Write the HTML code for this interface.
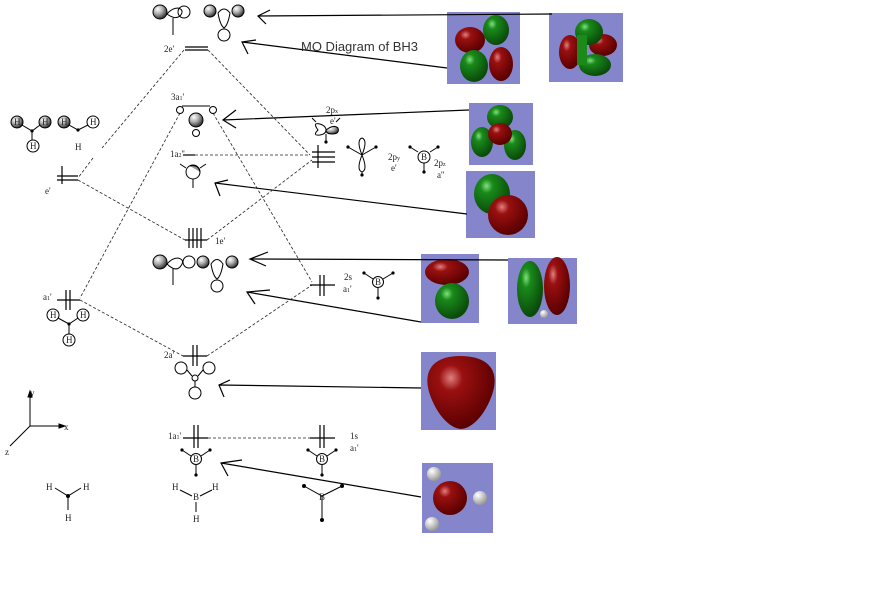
<!DOCTYPE html>
<html><head><meta charset="utf-8"><style>
html,body{margin:0;padding:0;background:#fff;}
svg{display:block;}
text{font-family:"Liberation Serif",serif;font-size:9px;fill:#222;}
.s{font-family:"Liberation Sans",sans-serif;}
</style></head><body>
<svg width="869" height="607" viewBox="0 0 869 607" xmlns="http://www.w3.org/2000/svg">
<defs>
<radialGradient id="red" cx="35%" cy="30%" r="70%"><stop offset="0" stop-color="#e08080"/><stop offset="0.25" stop-color="#9a1010"/><stop offset="1" stop-color="#5a0000"/></radialGradient>
<radialGradient id="grn" cx="35%" cy="30%" r="70%"><stop offset="0" stop-color="#80e080"/><stop offset="0.25" stop-color="#1a8a1a"/><stop offset="1" stop-color="#0a4a0a"/></radialGradient>
<radialGradient id="gry" cx="35%" cy="30%" r="70%"><stop offset="0" stop-color="#fff"/><stop offset="0.5" stop-color="#aaa"/><stop offset="1" stop-color="#333"/></radialGradient>
<radialGradient id="wht" cx="35%" cy="30%" r="70%"><stop offset="0" stop-color="#fff"/><stop offset="1" stop-color="#999"/></radialGradient>
</defs>

<!-- purple boxes with orbitals -->
<g>
<rect x="447" y="12" width="73" height="72" fill="#8585cc"/>
<ellipse cx="470" cy="40" rx="15" ry="13" fill="url(#red)"/>
<ellipse cx="496" cy="30" rx="13" ry="15" fill="url(#grn)"/>
<ellipse cx="474" cy="66" rx="14" ry="16" fill="url(#grn)"/>
<ellipse cx="501" cy="64" rx="12" ry="17" fill="url(#red)"/>

<rect x="549" y="13" width="74" height="69" fill="#8585cc"/>
<ellipse cx="570" cy="52" rx="11" ry="17" fill="url(#red)"/>
<ellipse cx="603" cy="45" rx="14" ry="11" fill="url(#red)"/>
<ellipse cx="589" cy="32" rx="14" ry="13" fill="url(#grn)"/>
<ellipse cx="595" cy="65" rx="16" ry="11" fill="url(#grn)"/>
<rect x="577" y="35" width="10" height="30" fill="#1a8a1a"/>

<rect x="469" y="103" width="64" height="62" fill="#8585cc"/>
<ellipse cx="500" cy="117" rx="13" ry="12" fill="url(#grn)"/>
<ellipse cx="482" cy="142" rx="11" ry="15" fill="url(#grn)"/>
<ellipse cx="515" cy="145" rx="11" ry="15" fill="url(#grn)"/>
<ellipse cx="500" cy="134" rx="12" ry="11" fill="url(#red)"/>

<rect x="466" y="171" width="69" height="67" fill="#8585cc"/>
<ellipse cx="492" cy="194" rx="18" ry="20" fill="url(#grn)"/>
<ellipse cx="508" cy="215" rx="20" ry="20" fill="url(#red)"/>

<rect x="421" y="254" width="58" height="69" fill="#8585cc"/>
<ellipse cx="447" cy="272" rx="22" ry="13" fill="url(#red)"/>
<ellipse cx="452" cy="301" rx="17" ry="18" fill="url(#grn)"/>

<rect x="508" y="258" width="69" height="66" fill="#8585cc"/>
<ellipse cx="530" cy="289" rx="13" ry="28" fill="url(#grn)"/>
<ellipse cx="557" cy="286" rx="13" ry="29" fill="url(#red)"/>
<circle cx="544" cy="314" r="4" fill="url(#wht)"/>

<rect x="421" y="352" width="75" height="78" fill="#8585cc"/>
<path d="M460 356 C490 356 500 372 492 395 C486 412 474 428 461 429 C448 428 436 412 430 395 C422 372 432 356 460 356Z" fill="url(#red)"/>

<rect x="422" y="463" width="71" height="70" fill="#8585cc"/>
<circle cx="434" cy="474" r="7" fill="url(#wht)"/>
<circle cx="432" cy="524" r="7" fill="url(#wht)"/>
<circle cx="480" cy="498" r="7" fill="url(#wht)"/>
<circle cx="450" cy="498" r="17" fill="url(#red)"/>
</g>

<!-- arrows -->
<g stroke="#000" stroke-width="1.2" fill="none">
<path d="M552 14 L258 16 M270 10 L258 16 L266 24"/>
<path d="M447 68 L242 42 M256 40 L242 42 L248 54"/>
<path d="M469 110 L223 120 M236 110 L223 120 L236 128"/>
<path d="M467 214 L215 183 M228 180 L215 183 L220 196"/>
<path d="M508 260 L250 259 M268 252 L250 259 L266 266"/>
<path d="M421 322 L247 292 M270 290 L247 292 L255 304"/>
<path d="M421 388 L219 385 M230 380 L219 385 L224 397"/>
<path d="M421 497 L221 463 M242 460 L221 463 L228 476"/>
</g>

<text class="s" x="301" y="51" style="font-size:13px;fill:#333">MO Diagram of BH3</text>

<!-- dashed correlation lines -->
<g stroke="#222" stroke-width="0.8" stroke-dasharray="3,2" fill="none">
<path d="M184 50 L102 148 M93 158 L78 178"/>
<path d="M208 50 L310 155"/>
<path d="M180 113 L80 298"/>
<path d="M213 113 L312 282"/>
<path d="M185 155 L310 155"/>
<path d="M78 180 L185 240"/>
<path d="M207 240 L312 160"/>
<path d="M80 300 L183 356"/>
<path d="M207 356 L312 285"/>
<path d="M208 438 L310 438"/>
</g>

<!-- energy levels -->
<g stroke="#000" stroke-width="1.2" fill="none">
<path d="M185 47 H208 M185 50 H208"/>
<path d="M57 176 H78 M57 180 H78 M62 184 V166"/>
<path d="M183 155 H195"/>
<path d="M312 152 H335 M312 157 H335 M312 162 H335 M318 168 V145"/>
<path d="M185 240 H207 M189 248 V228 M193 228 V248 M197 248 V228 M201 228 V248"/>
<path d="M57 300 H80 M66 310 V290 M70 290 V310"/>
<path d="M310 285 H335 M320 296 V275 M324 275 V296"/>
<path d="M183 356 H207 M193 366 V345 M197 345 V366"/>
<path d="M183 438 H208 M194 448 V425 M198 425 V448"/>
<path d="M310 438 H335 M320 448 V425 M324 425 V448"/>
</g>

<!-- labels -->
<text x="164" y="52">2e'</text>
<text x="171" y="100">3a<tspan font-size="6">1</tspan>'</text>
<text x="170" y="157">1a<tspan font-size="6">2</tspan>''</text>
<text x="45" y="194">e'</text>
<text x="215" y="244">1e'</text>
<text x="43" y="300">a<tspan font-size="6">1</tspan>'</text>
<text x="164" y="358">2a'</text>
<text x="168" y="439">1a<tspan font-size="6">1</tspan>'</text>
<text x="326" y="113">2p<tspan font-size="6">x</tspan></text>
<text x="330" y="124">e'</text>
<text x="388" y="160">2p<tspan font-size="6">y</tspan></text>
<text x="391" y="171">e'</text>
<text x="434" y="166">2p<tspan font-size="6">z</tspan></text>
<text x="437" y="178">a''</text>
<text x="344" y="280">2s</text>
<text x="343" y="292">a<tspan font-size="6">1</tspan>'</text>
<text x="350" y="439">1s</text>
<text x="350" y="451">a<tspan font-size="6">1</tspan>'</text>

<!-- orbital cartoons -->
<g stroke="#000" stroke-width="1" fill="none">
<!-- top left 2e' -->
<circle cx="160" cy="12" r="7" fill="url(#gry)"/>
<path d="M167 14 Q175 20 180 16 Q185 10 178 8 Q172 8 167 14Z"/>
<circle cx="184" cy="12" r="6"/>
<path d="M173 18 V35"/>
<circle cx="210" cy="11" r="6" fill="url(#gry)"/>
<circle cx="238" cy="11" r="6" fill="url(#gry)"/>
<path d="M218 13 Q224 5 230 13 Q228 25 224 28 Q220 25 218 13Z"/>
<circle cx="224" cy="35" r="6"/>
<!-- 3a1' -->
<path d="M182 106 H210"/>
<circle cx="180" cy="110" r="3.5"/>
<circle cx="213" cy="110" r="3.5"/>
<circle cx="196" cy="120" r="7" fill="url(#gry)"/>
<circle cx="196" cy="133" r="3.5"/>
<!-- 1a2'' -->
<circle cx="193" cy="172" r="7"/>
<path d="M186 168 L180 164 M200 168 L206 164 M193 179 V188"/>
<path d="M190 166 Q198 164 200 172" fill="#999"/>
<!-- left H3 groups -->
<circle cx="17" cy="122" r="6" fill="url(#gry)"/>
<circle cx="45" cy="122" r="6" fill="url(#gry)"/>
<circle cx="33" cy="146" r="6"/>
<path d="M22 125 L32 131 L40 125 M32 131 V140"/>
<circle cx="64" cy="122" r="6" fill="url(#gry)"/>
<circle cx="93" cy="122" r="6"/>
<path d="M69 125 L78 130 L88 125"/>
<text x="75" y="150" stroke="none" font-size="8">H</text>
<!-- 2px picture -->
<path d="M318 130 Q312 122 320 124 Q326 126 326 130 Q326 134 320 135 Q312 136 318 130Z"/>
<path d="M326 130 Q334 124 338 128 Q340 134 332 134 Q326 134 326 130Z" fill="url(#gry)"/>
<path d="M316 122 L312 118 M336 122 L340 118 M326 134 V142"/>
<!-- 2py -->
<path d="M362 155 Q356 140 362 138 Q368 140 362 155 Q368 170 362 172 Q356 170 362 155Z"/>
<path d="M362 155 L348 147 M362 155 L376 147 M362 172 V175"/>
<!-- 2pz B -->
<circle cx="424" cy="157" r="6"/>
<path d="M418 152 L410 147 M430 152 L438 147 M424 163 V172"/>
<text x="421" y="160" stroke="none" font-size="7">B</text>
<!-- 1e' pictures -->
<circle cx="160" cy="262" r="7" fill="url(#gry)"/>
<path d="M167 264 Q175 272 180 267 Q186 260 178 258 Q172 258 167 264Z"/>
<circle cx="189" cy="262" r="6"/>
<path d="M173 268 V285"/>
<circle cx="203" cy="262" r="6" fill="url(#gry)"/>
<circle cx="232" cy="262" r="6" fill="url(#gry)"/>
<path d="M211 264 Q217 255 223 264 Q221 276 217 279 Q213 276 211 264Z"/>
<circle cx="217" cy="286" r="6"/>
<!-- 2s B -->
<circle cx="378" cy="282" r="5.5"/>
<path d="M373 279 L364 273 M383 279 L393 273 M378 288 V298"/>
<text x="375" y="285" stroke="none" font-size="7">B</text>
<!-- a1' left H3 -->
<circle cx="53" cy="315" r="6"/>
<circle cx="83" cy="315" r="6"/>
<circle cx="69" cy="340" r="6"/>
<path d="M58 318 L69 324 L78 318 M69 324 V334"/>
<!-- 2a1' -->
<circle cx="181" cy="368" r="6"/>
<circle cx="209" cy="368" r="6"/>
<circle cx="195" cy="378" r="3"/>
<circle cx="195" cy="393" r="6"/>
<path d="M187 370 L192 376 M203 370 L198 376 M195 381 V387"/>
<!-- axes -->
<path d="M30 426 V392 M30 426 H64 M30 426 L10 446"/>
<path d="M28 397 L30 391 L32 397 Z M59 424 L65 426 L59 428Z" fill="#000"/>
<!-- 1a1' B pics -->
<circle cx="196" cy="459" r="5.5"/>
<path d="M191 456 L182 450 M201 456 L210 450 M196 465 V474"/>
<circle cx="322" cy="459" r="5.5"/>
<path d="M317 456 L308 450 M327 456 L336 450 M322 465 V474"/>
<!-- bottom structures -->
<path d="M55 488 L68 496 L81 488 M68 496 V510"/>
<path d="M180 490 L192 496 M212 490 L200 496 M196 502 V512"/>
<path d="M304 486 L322 496 L342 486 M322 496 V520"/>
</g>
<g fill="#000">
<circle cx="68" cy="496" r="2"/><circle cx="182" cy="450" r="1.6"/><circle cx="210" cy="450" r="1.6"/><circle cx="196" cy="475" r="1.6"/>
<circle cx="308" cy="450" r="1.6"/><circle cx="336" cy="450" r="1.6"/><circle cx="322" cy="475" r="1.6"/>
<circle cx="304" cy="486" r="2"/><circle cx="342" cy="486" r="2"/><circle cx="322" cy="520" r="2"/>
<circle cx="364" cy="273" r="1.6"/><circle cx="393" cy="273" r="1.6"/><circle cx="378" cy="298" r="1.6"/>
<circle cx="348" cy="147" r="1.6"/><circle cx="376" cy="147" r="1.6"/><circle cx="362" cy="175" r="1.6"/>
<circle cx="410" cy="147" r="1.6"/><circle cx="438" cy="147" r="1.6"/><circle cx="424" cy="172" r="1.6"/>
<circle cx="326" cy="142" r="1.6"/><circle cx="78" cy="130" r="1.6"/><circle cx="32" cy="131" r="1.6"/><circle cx="69" cy="324" r="1.6"/>
</g>
<g font-size="7" stroke="none">
<text x="14" y="125">H</text><text x="42" y="125">H</text><text x="30" y="149">H</text><text x="61" y="125">H</text><text x="90" y="125">H</text>
<text x="50" y="318">H</text><text x="80" y="318">H</text><text x="66" y="343">H</text>
<text x="193" y="462">B</text><text x="319" y="462">B</text>
<text x="30" y="396">y</text><text x="64" y="430">x</text><text x="5" y="455">z</text>
<text x="46" y="490">H</text><text x="83" y="490">H</text><text x="65" y="521">H</text>
<text x="172" y="490">H</text><text x="212" y="490">H</text><text x="193" y="500">B</text><text x="193" y="522">H</text>
<text x="319" y="500">B</text>
</g>
</svg>
</body></html>
